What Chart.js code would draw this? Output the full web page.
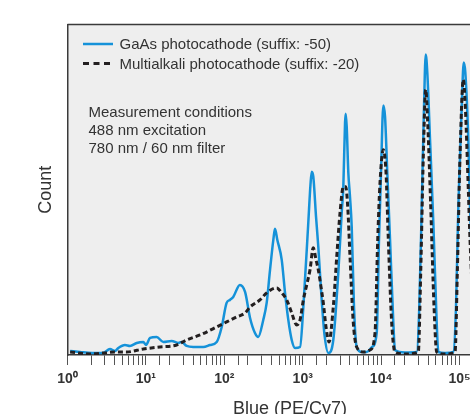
<!DOCTYPE html>
<html>
<head>
<meta charset="utf-8">
<script src="https://cdn.jsdelivr.net/npm/chart.js@4.4.0/dist/chart.umd.min.js"></script>
<style>
    html, body { margin: 0; padding: 0; background: #fff; overflow: hidden; }
    #wrap { width: 520px; height: 430px; }
</style>
</head>
<body>
<div id="wrap"><canvas id="chart" width="520" height="430"></canvas></div>
<script>
// Series (x = Blue PE/Cy7 intensity, y = count)
const seriesNames = ['GaAs photocathode (suffix: -50)', 'Multialkali photocathode (suffix: -20)'];

const gaasX = [1.08, 1.44, 2.04, 2.84, 3.48, 4.04, 4.45, 5.41, 6.27, 7.63, 9.27, 10.0, 11.3, 13.7, 16.7, 21.3, 25.9, 28.6, 33.1, 40.2,
    54.0, 65.7, 80.0, 92.7, 107, 118, 130, 158, 184, 213, 246, 271, 314, 347, 383, 422, 443, 474, 540, 595,
    655, 724, 798, 925, 1019, 1178, 1256, 1303, 1365, 1479, 1581, 1746, 1897, 2122, 2455, 2844, 3143, 3296, 3467, 3535,
    3641, 3818, 4011, 4217, 4510, 4885, 5704, 6549, 7656, 8790, 9397, 9970, 10670, 11220, 11990, 13000, 14320, 15030, 20180, 28440,
    30690, 32970, 35250, 37070, 38820, 42070, 46350, 51170, 53700, 65310, 83370, 90200, 96600, 106700, 113200, 118600, 129500, 136100, 148600, 162300,
    182700, 245000];
const gaasY = [4, 3, 2, 2, 6, 4, 7, 10, 9, 12, 13, 10, 17, 18, 13, 14, 12, 13, 9, 8,
    8, 10, 13, 28, 52, 55, 58, 70, 63, 37, 22, 18, 35, 52, 85, 115, 126, 115, 95, 62,
    35, 15, 7, 8, 48, 132, 170, 183, 178, 138, 108, 55, 20, 2, 15, 82, 142, 168, 232, 241,
    228, 182, 158, 128, 48, 8, 3, 3, 8, 22, 115, 182, 249, 238, 182, 115, 32, 5, 2.5, 3,
    48, 148, 248, 300, 282, 215, 132, 32, 3, 2, 3, 48, 148, 248, 292, 282, 215, 148, 65, 15,
    3, 2];

const multiX = [1.08, 1.94, 2.86, 4.04, 5.69, 9.27, 15.1, 24.7, 33.1, 49.0, 80.0, 107, 144, 184, 213, 285, 347, 466, 540, 625,
    724, 838, 925, 1019, 1125, 1239, 1365, 1479, 1581, 1711, 1832, 1983, 2164, 2455, 2716, 2992, 3296, 3535, 3750, 4011,
    4419, 4885, 5930, 7215, 8360, 9050, 9680, 10670, 11550, 12360, 13650, 15030, 20180, 29810, 31990, 34520, 37070, 39280, 42950, 47320,
    51170, 65310, 87700, 93750, 101400, 111800, 118600, 129500, 136100, 153100, 172200, 245000];
const multiY = [3, 1, 2, 3, 3, 6, 8, 10, 15, 20, 28, 33, 38, 42, 48, 55, 62, 67, 62, 55,
    42, 30, 35, 55, 70, 85, 107, 95, 85, 68, 52, 28, 13, 48, 98, 142, 168, 168, 148, 98,
    32, 8, 3, 5, 22, 115, 172, 205, 182, 115, 32, 3, 1, 3, 82, 198, 265, 232, 148, 48,
    3, 1, 3, 82, 198, 275, 248, 165, 115, 35, 5, 2];

const decadeLabels = ['10\u2070', '10\u00B9', '10\u00B2', '10\u00B3', '10\u2074', '10\u2075'];
const noteLines = ['Measurement conditions', '488 nm excitation', '780 nm / 60 nm filter'];

const toPoints = (xs, ys) => xs.map((x, i) => ({ x: x, y: ys[i] }));

Chart.defaults.font.family = "'Liberation Sans', Arial, sans-serif";
Chart.defaults.color = '#333';

// Grey plot box, legend and note text drawn inside the plot
const plotFrame = {
    id: 'plotFrame',
    beforeDraw(chart) {
        const { ctx, chartArea: a } = chart;
        ctx.save();
        ctx.fillStyle = '#eeeeee';
        ctx.fillRect(a.left, a.top, a.width, a.height);
        ctx.strokeStyle = '#3a3a3a';
        ctx.lineWidth = 1.5;
        ctx.beginPath();
        ctx.moveTo(a.left, a.top);
        ctx.lineTo(a.right, a.top);
        ctx.lineTo(a.right, a.bottom);
        ctx.stroke();
        ctx.restore();
    },
    afterDraw(chart) {
        const { ctx, chartArea: a } = chart;
        ctx.save();
        ctx.font = "15px 'Liberation Sans', Arial, sans-serif";
        ctx.fillStyle = '#333';
        ctx.textBaseline = 'middle';

        // legend: line sample + label
        chart.data.datasets.forEach((ds, i) => {
            const y = a.top + 19.5 + i * 19.5;
            ctx.strokeStyle = ds.borderColor;
            ctx.lineWidth = ds.borderWidth;
            ctx.setLineDash(ds.borderDash ? [6, 4.5] : []);
            ctx.beginPath();
            ctx.moveTo(a.left + 15.5, y);
            ctx.lineTo(a.left + 45.5, y);
            ctx.stroke();
            ctx.fillText(ds.label, a.left + 52, y + 1);
        });
        ctx.setLineDash([]);

        noteLines.forEach((t, i) => ctx.fillText(t, a.left + 21, a.top + 88 + i * 18.3));
        ctx.restore();
    }
};

new Chart(document.getElementById('chart'), {
    type: 'line',
    data: {
        datasets: [{
            label: seriesNames[0],
            data: toPoints(gaasX, gaasY),
            borderColor: '#1592d9',
            borderWidth: 2.5,
            pointRadius: 0,
            cubicInterpolationMode: 'monotone',
            order: 2
        }, {
            label: seriesNames[1],
            data: toPoints(multiX, multiY),
            borderColor: '#231f20',
            borderWidth: 3,
            borderDash: [5, 3],
            pointRadius: 0,
            cubicInterpolationMode: 'monotone',
            order: 1
        }]
    },
    options: {
        responsive: false,
        devicePixelRatio: 1,
        animation: false,
        layout: { padding: { left: 31, top: 24.5, right: 7.5, bottom: 8 } },
        plugins: {
            tooltip: { enabled: false },
            legend: { display: false }
        },
        scales: {
            x: {
                type: 'logarithmic',
                min: 1,
                max: 474000,
                afterFit: (scale) => { scale.height = 67; },
                border: { display: true, color: '#3a3a3a', width: 1.5 },
                grid: { drawOnChartArea: false, drawTicks: true, tickLength: 10, color: '#555', lineWidth: 1 },
                ticks: {
                    autoSkip: false,
                    maxRotation: 0,
                    padding: 6,
                    color: '#333',
                    font: { size: 14, weight: 'bold' },
                    callback: (value) => {
                        const e = Math.log10(value);
                        const r = Math.round(e);
                        return Math.abs(e - r) < 1e-9 ? (decadeLabels[r] || '') : '';
                    }
                },
                title: {
                    display: true,
                    text: 'Blue (PE/Cy7)',
                    color: '#333',
                    font: { size: 18 },
                    padding: { top: 4, bottom: 2 }
                }
            },
            y: {
                min: 0,
                max: 330,
                afterFit: (scale) => { scale.width = 36.5; },
                border: { display: true, color: '#3a3a3a', width: 1.5 },
                grid: { display: false },
                ticks: { display: false },
                title: {
                    display: true,
                    text: 'Count',
                    color: '#333',
                    font: { size: 18 },
                    padding: { top: 4, bottom: 4 }
                }
            }
        }
    },
    plugins: [plotFrame]
});
</script>
</body>
</html>
